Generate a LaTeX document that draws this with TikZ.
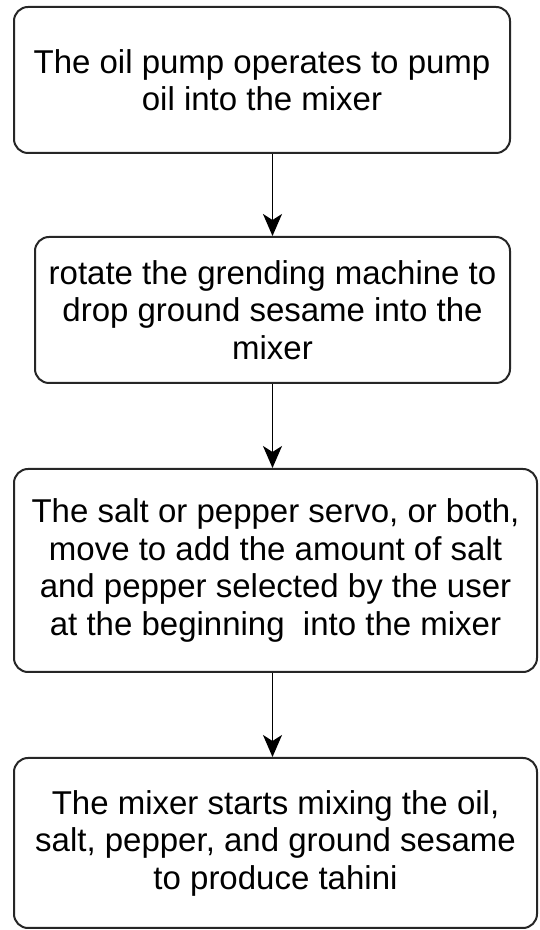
\documentclass[tikz,border=0pt]{standalone}
\usepackage{fontspec}
\setmainfont{Liberation Sans}
\usetikzlibrary{arrows.meta}

\begin{document}
\begin{tikzpicture}[x=1pt, y=1pt,
    stepbox/.style={draw=black!85, line width=2pt, rounded corners=14pt, fill=white,
        align=center, inner sep=0pt, font=\fontsize{33}{37.5}\selectfont},
    flow/.style={line width=1.8pt, -{Stealth[length=22pt, width=19pt, inset=6pt]}}]

    % Page size
    \useasboundingbox (0, 0) rectangle (539, 930);

    % Draw the four steps of the process
    \node[stepbox, minimum width=496pt, minimum height=146pt] (pump) at (262, 850)
        {The oil pump operates to pump\\oil into the mixer};
    \node[stepbox, minimum width=475pt, minimum height=146pt] (grind) at (272.5, 620)
        {rotate the grending machine to\\drop ground sesame into the\\mixer};
    \node[stepbox, minimum width=523pt, minimum height=203pt] (servo) at (275.5, 359.5)
        {The salt or pepper servo, or both,\\move to add the amount of salt\\and pepper selected by the user\\at the beginning\ \ into the mixer};
    \node[stepbox, minimum width=523pt, minimum height=170pt] (mix) at (275.5, 87)
        {The mixer starts mixing the oil,\\salt, pepper, and ground sesame\\to produce tahini};

    % Arrows between the steps
    \draw[flow] (pump.south -| grind.north) -- (grind.north);
    \draw[flow] (grind.south) -- (grind.south |- servo.north);
    \draw[flow] (servo.south -| grind.south) -- (mix.north -| grind.south);

\end{tikzpicture}
\end{document}
